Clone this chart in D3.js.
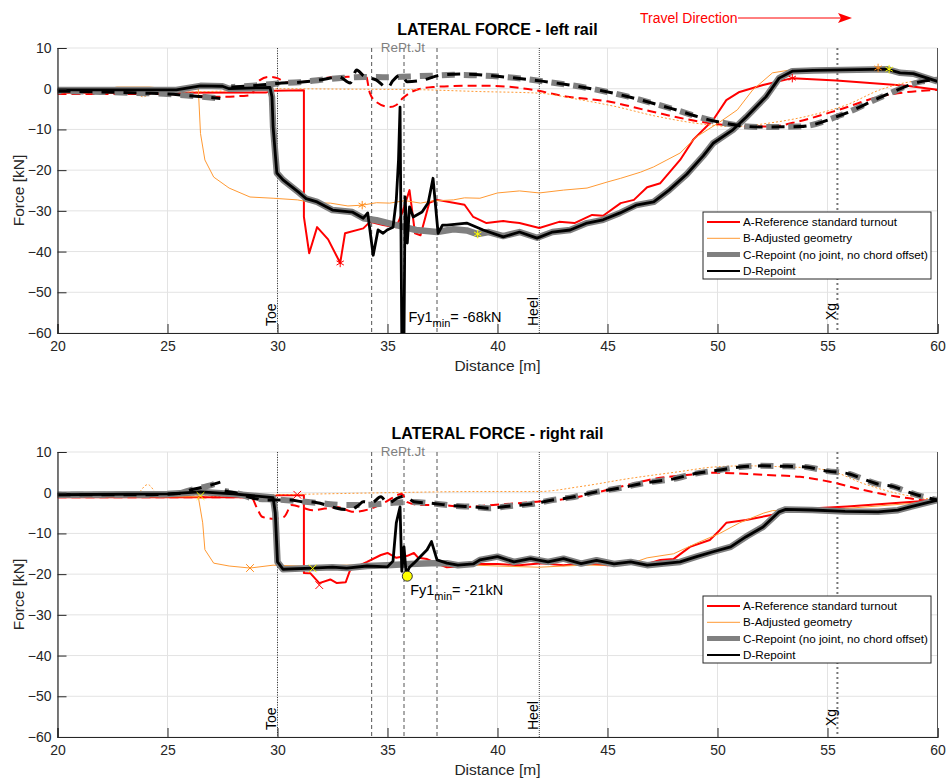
<!DOCTYPE html>
<html><head><meta charset="utf-8">
<script src="https://cdn.jsdelivr.net/npm/d3@7"></script>
<style>body{margin:0;background:#fff} text{font-family:"Liberation Sans",Arial,Helvetica,sans-serif;fill:#262626}</style>
</head><body><svg id="c" width="946" height="782"></svg>
<script>
// ---------- data ----------
const xTicks = [20,25,30,35,40,45,50,55,60];
const yTicks = [10,0,-10,-20,-30,-40,-50,-60];
const legendLabels = ["A-Reference standard turnout","B-Adjusted geometry","C-Repoint (no joint, no chord offset)","D-Repoint"];
const titles = ["LATERAL FORCE - left rail","LATERAL FORCE - right rail"];
const refLines = [
  {x:30, label:"Toe", kind:"toe"},
  {x:34.28, label:"", kind:"jt"},
  {x:35.75, label:"", kind:"jt"},
  {x:37.25, label:"", kind:"jt"},
  {x:41.9, label:"Heel", kind:"heel"},
  {x:55.45, label:"Xg", kind:"xg"}
];
const jointLabel = {x:35.7, text:"RePt.Jt"};

// ----- left rail (top) -----
const topA_solid = [[20,-1],[25,-1],[29.5,-0.9],[29.8,-0.5],[31.2,-0.4],[31.2,-31.5],[31.44,-40.4],[31.8,-34],[32.3,-37],[32.85,-42.8],[33.07,-35.5],[33.9,-34.3],[34.2,-32.7],[34.8,-33.5],[35.4,-34],[35.7,-30],[36.0,-24.9],[36.25,-35.5],[36.5,-36],[36.9,-28],[37.25,-27.3],[38,-28],[38.5,-28.5],[38.9,-31.5],[39.5,-33],[40.26,-32.5],[41.0,-33],[41.9,-34.2],[42.8,-32.7],[43.5,-33],[44.3,-31],[44.8,-31.2],[45.6,-28.1],[46.2,-27.3],[46.8,-24.2],[47.4,-23.2],[48.3,-17.5],[48.9,-12.5],[49.8,-7.7],[50.4,-2.8],[51.0,-0.8],[52.07,0.9],[53.4,2.6],[55.4,2.0],[58.6,0.7],[60,-0.25]];
const topA_dash = [[20,-1.3],[25,-1.3],[27.2,-2],[28.75,-1.6],[29.2,2.1],[29.6,2.9],[30,2.6],[30.4,1.5],[31.3,1.7],[31.8,2.4],[33,2.9],[33.5,3],[34,3.5],[34.2,-1.1],[34.5,-3.3],[35.1,-4.5],[35.4,-4],[35.7,-2.3],[36.3,-0.3],[37.07,0.4],[38.45,0.7],[39.6,0.7],[41.6,-0.25],[43.1,-1.9],[45,-3.1],[47,-5.6],[48.9,-7.8],[50.3,-8.9],[51.5,-9.3],[52.6,-9.2],[53.7,-8],[55.5,-5.2],[57.4,-1.9],[59.3,-0.5],[60,-0.3]];
const topB_solid = [[20,-0.5],[22,-0.3],[22.7,0.4],[24.2,0.4],[25,0],[26.4,0],[26.5,-11],[26.7,-17.5],[27.1,-21.7],[27.8,-24.4],[28.75,-26.6],[29.8,-26.9],[30.9,-27.3],[31.6,-28],[32.4,-28.1],[33.2,-28.8],[33.85,-28.6],[34.5,-28],[35.1,-28.1],[35.8,-27.5],[36.5,-28.1],[37,-27.6],[38,-27.3],[38.5,-26.8],[39.2,-26.9],[40,-25.6],[41,-25.1],[41.9,-25.6],[43,-24.9],[44.07,-24.4],[45,-22.9],[45.6,-22],[46.5,-20.5],[47.1,-19.2],[47.7,-17.5],[48.3,-15.8],[49.05,-11.8],[50.1,-8.2],[50.9,-5.2],[51.6,-0.3],[52.5,3.9],[53.3,4.6],[57.1,4.8],[58.2,4.0],[58.9,3.4],[60,1.6]];
const topB_dash = [[20,-1],[23.5,-1],[23.9,-2],[24.3,-1],[26,-0.8],[28,-0.5],[30,0],[33,-0.1],[36,-0.2],[39.2,-0.7],[41.9,-1.1],[43.75,-2.7],[45.3,-4.3],[47.25,-6.8],[49.5,-8.8],[50.7,-9.3],[52.4,-8.4],[54.35,-6.4],[55.9,-3.9],[57.4,-0.25],[58.9,1.8],[60,2.2]];
const topC_solid = [[20,-0.3],[25.4,-0.3],[26.5,0.7],[27.5,0.6],[27.8,0],[29.66,0.3],[29.75,-2],[29.8,-9.4],[29.97,-20.7],[30.25,-22.4],[31.0,-25.6],[31.3,-27],[31.8,-27.8],[32.5,-29.8],[33.4,-30.3],[33.9,-31.8],[34.5,-32.3],[35.4,-33.5],[36.3,-34.7],[37.25,-35.2],[38.0,-34.5],[38.6,-34.8],[39.1,-35.7],[39.6,-35.2],[40.26,-36.2],[41.0,-35.2],[41.8,-36.6],[42.5,-35.2],[43.3,-34.7],[44.07,-33],[44.8,-32.2],[45.57,-30.5],[46.3,-28.6],[47.1,-27.8],[47.8,-24.9],[48.6,-21],[49.35,-16.5],[49.8,-13.4],[50.7,-10.1],[51.3,-7],[52.2,-2],[52.8,2.6],[53.4,4.3],[54.35,4.5],[57.7,4.8],[58.3,3.9],[58.9,3.7],[60,1.8]];
const topC_dash = [[20,-0.6],[22,-0.8],[24,-1.1],[25,-1.3],[26,-1.7],[27.4,-2.4],null,[27.9,0.4],[29,0.8],[30,1.3],[31,1.6],[32,2.2],[33,2.7],[34,2.9],[35,2.8],[36,3.0],[37,3.2],[38,3.4],[40.1,3.0],[42.1,1.8],[44.07,0.2],[45.9,-1.9],[47.8,-4.7],[49.9,-8.0],[51.9,-9.4],[53.75,-9.3],[55.65,-6.4],[57.5,-1.9],[59.3,1.8],[60,2.2]];
const topD_solid = [[20,-0.3],[25.4,-0.3],[26.5,0.7],[27.5,0.6],[27.8,0],[29.66,0.3],[29.75,-2],[29.8,-9.4],[29.97,-20.7],[30.25,-22.4],[31.0,-25.6],[31.3,-27],[31.8,-27.8],[32.5,-29.8],[33.4,-30.3],[33.9,-31.8],[34.1,-30.5],[34.35,-40.9],[34.57,-34.7],[34.8,-35.5],[34.98,-34.7],[35.25,-34],[35.4,-27.3],[35.5,-17.5],[35.57,-4.5],[35.66,-68],[35.74,-68],[35.8,-26.6],[35.9,-37.9],[36.0,-29],[36.17,-31.5],[36.57,-30.3],[36.85,-28],[37.07,-22],[37.3,-35.5],[37.5,-33.5],[37.7,-33.5],[38.6,-33],[39.35,-34.7],[40.26,-36.4],[41.0,-35.2],[41.8,-36.7],[42.5,-35.2],[43.3,-34.7],[44.07,-33],[44.8,-32.2],[45.57,-30.5],[46.3,-28.6],[47.1,-27.8],[47.8,-24.9],[48.6,-21],[49.35,-16.5],[49.8,-13.4],[50.7,-10.1],[51.3,-7],[52.2,-2],[52.8,2.6],[53.4,4.3],[54.35,4.5],[57.7,4.8],[58.3,3.9],[58.9,3.7],[60,1.8]];
const topD_dash = [[20,-0.6],[22,-0.8],[24,-1.1],[25,-1.3],[26,-1.7],[27.4,-2.4],null,[27.9,0.4],[29,0.8],[30,1.3],[31,1.6],[32,2.2],[32.8,2.9],[33.3,1.4],[33.6,4.6],[33.9,3.2],[34.5,2.1],[35.0,0.2],[35.25,2.0],[35.6,3.4],[35.9,1.7],[36.5,2.0],[37.5,3.4],[38.5,3.6],[40.1,3.0],[42.1,1.8],[44.07,0.2],[45.9,-1.9],[47.8,-4.7],[49.9,-8.0],[51.9,-9.4],[53.75,-9.3],[55.65,-6.4],[57.5,-1.9],[59.3,1.8],[60,2.2]];
const topMarkers = [
  {x:32.85,y:-42.8,c:"#ff0000",s:"ast"},{x:33.85,y:-28.6,c:"#ff8c1a",s:"ast"},{x:39.1,y:-35.7,c:"#ffff00",s:"ast"},
  {x:53.4,y:2.6,c:"#ff0000",s:"ast"},{x:57.3,y:5.1,c:"#ff8c1a",s:"ast"},{x:57.8,y:4.8,c:"#ffff00",s:"ast"}];

// ----- right rail (bottom) -----
const botA_solid = [[20,-1.1],[29.7,-1.1],[30,-0.6],[31.2,-0.6],[31.2,-19.7],[31.5,-19.8],[31.9,-22.2],[32.4,-21.3],[32.7,-22.2],[33.1,-22],[33.3,-19],[33.75,-17.8],[34.07,-17],[34.7,-15.3],[35,-14.8],[35.4,-16],[35.9,-15.5],[36.2,-14.8],[36.4,-16],[36.8,-16.3],[37.3,-17.5],[37.7,-18.3],[38.5,-18],[39.2,-17.5],[40,-17.5],[41,-17.8],[42,-17.3],[43,-17.8],[44,-17.3],[45,-17.8],[46,-17.3],[46.8,-17.5],[47.4,-16.5],[48,-16.3],[48.75,-13.3],[49.65,-11.6],[50.1,-9.2],[50.4,-7.4],[51.3,-6.7],[52.5,-5.4],[53.15,-4.2],[55.9,-3.4],[58.9,-2.2],[60,-1.8]];
const botA_dash = [[20,-1.1],[28.8,-1.1],[29.07,-3.8],[29.3,-5.9],[29.8,-6.4],[30.3,-5.9],[30.65,-3],[31.2,-3.8],[31.6,-4.3],[32.7,-3.5],[33.45,-4.7],[34.2,-4],[34.9,-2.3],[35.65,-0.3],[35.9,-2.3],[36.5,-3],[37.4,-3],[38.5,-3.5],[39.8,-3],[41.8,-2.2],[43.3,-1.4],[44.7,0.3],[45.9,1.9],[47.2,3.5],[48.6,4.35],[49.8,4.9],[50.7,4.8],[52.2,4.35],[53.75,3.9],[55.1,2.7],[56.6,0.7],[58.2,-1],[60,-2.2]];
const botB_solid = [[20,-1],[26.4,-1],[26.6,-7.4],[26.7,-14],[27.1,-17.3],[27.8,-18],[28.75,-18.5],[29.8,-17.8],[31,-18],[32,-18.2],[33,-17.8],[34,-17.8],[35,-17.5],[36,-17.5],[37,-17.8],[38,-18],[39,-17.8],[40,-18],[41.9,-18.3],[43,-18],[44,-17.8],[45,-17.8],[46,-17.5],[46.8,-16],[48,-15],[49.05,-12.4],[50.1,-10],[51,-7.4],[52.1,-5],[52.5,-4.4],[54.3,-4.3],[56,-3.8],[58.9,-2.6],[60,-1.8]];
const botB_dash = [[20,-1],[23.5,-0.8],[24.1,2],[24.6,-0.5],[27,-0.8],[30,-0.5],[35,0],[39.2,0.3],[41.9,0.3],[43.75,1.5],[46.0,3.5],[48.3,5.2],[49.8,6.3],[51.3,6.6],[52.8,6.4],[54.35,6.0],[55.25,5.2],[56.6,2.3],[58.15,-0.15],[60,-1.8]];
const botC_solid = [[20,-0.5],[25,-0.3],[26.5,0.2],[28,-0.3],[29.8,-1.2],[29.9,-5],[30.0,-17],[30.25,-18.8],[31.6,-18.5],[32.5,-18.3],[33.15,-18.5],[34.07,-18],[35,-17.8],[36,-17.5],[37,-17.3],[37.7,-17.3],[38.2,-17.8],[38.9,-17.5],[39.2,-16.5],[40,-15.7],[40.75,-17],[41.5,-16.2],[42.3,-17],[43.0,-16.2],[43.8,-17.4],[44.5,-16.6],[45.3,-17.5],[46.05,-17],[46.8,-17.8],[47.55,-17.4],[48.3,-17],[49.05,-15.7],[49.8,-14.5],[50.6,-13.3],[51.3,-10.8],[52.07,-8.4],[52.8,-4.7],[53.1,-4.1],[54.3,-4.25],[55.8,-4.6],[57.3,-4.7],[58.2,-4.3],[58.8,-3.4],[60,-1.8]];
const botC_dash = [[20,-0.5],[24,-0.5],[25.5,-0.2],[26,0.6],[26.8,1.6],[27.4,2.6],null,[27.6,0.4],[28.2,-0.2],[29,-1.5],[30,-1.7],[31,-2.1],[32,-2.6],[33,-3],[34,-3],[35,-2.6],[36,-2.3],[37,-2.6],[38,-3.2],[39,-3.5],[39.6,-3.8],[40.5,-3.3],[41.5,-2.8],[42.5,-1.8],[43.3,-1.2],[44.5,0.2],[45.5,1.1],[46.8,2.5],[48,3.4],[49,4.7],[50,5.5],[51,6.3],[52,6.6],[53,6.5],[54,6.3],[55,5.3],[56,4.6],[56.6,3.4],[57.3,2.1],[58,1.5],[58.6,0.3],[59.3,-0.9],[60,-1.8]];
const botD_solid = [[20,-0.5],[25,-0.3],[26.5,0.2],[28,-0.3],[29.8,-1.2],[29.9,-5],[30.0,-17],[30.25,-18.8],[31.6,-18.5],[32.5,-18.3],[33.15,-18.5],[34.07,-18],[35,-18.2],[35.25,-16.8],[35.4,-7.4],[35.57,-3.5],[35.65,-19.3],[35.75,-13.3],[35.85,-20],[36.0,-18.3],[36.2,-17.3],[36.8,-14],[37,-12],[37.25,-16.5],[37.7,-17.3],[38.2,-17.8],[38.9,-17.5],[39.2,-16.5],[40,-15.7],[40.75,-17],[41.5,-16.2],[42.3,-17],[43.0,-16.2],[43.8,-17.4],[44.5,-16.6],[45.3,-17.5],[46.05,-17],[46.8,-17.8],[47.55,-17.4],[48.3,-17],[49.05,-15.7],[49.8,-14.5],[50.6,-13.3],[51.3,-10.8],[52.07,-8.4],[52.8,-4.7],[53.1,-4.1],[54.3,-4.25],[55.8,-4.6],[57.3,-4.7],[58.2,-4.3],[58.8,-3.4],[60,-1.8]];
const botD_dash = [[20,-0.5],[24,-0.5],[25.5,-0.2],[26,0.6],[26.8,1.6],[27.4,2.6],null,[27.6,0.4],[28.2,-0.2],[29,-1.5],[29.5,-1.8],[30.6,-1.8],[31.1,-2.2],[31.6,-2.3],[32.2,-3],[32.7,-3.8],[33.3,-4.2],[33.7,-3],[33.9,-2.2],[34.3,-2.4],[34.7,-1],[35,-2.6],[35.5,-1.2],[35.8,-0.8],[36.2,-2.2],[37,-2.6],[38,-3.2],[39,-3.5],[39.6,-3.8],[40.5,-3.3],[41.5,-2.8],[42.5,-1.8],[43.3,-1.2],[44.5,0.2],[45.5,1.1],[46.8,2.5],[48,3.4],[49,4.7],[50,5.5],[51,6.3],[52,6.6],[53,6.5],[54,6.3],[55,5.3],[56,4.6],[56.6,3.4],[57.3,2.1],[58,1.5],[58.6,0.3],[59.3,-0.9],[60,-1.8]];
const botMarkers = [
  {x:28.75,y:-18.5,c:"#ff8c1a",s:"x"},{x:30.9,y:-0.5,c:"#ff0000",s:"x"},{x:31.9,y:-22.7,c:"#ff0000",s:"x"},
  {x:26.5,y:-0.8,c:"#ffff00",s:"x"},{x:31.6,y:-18.6,c:"#ffff00",s:"x"}];
const minPoints = [{x:35.72,y:-68,label:"-68kN",tx:35.95,ty:-57.3,circle:false},{x:35.9,y:-20.5,label:"-21kN",tx:36.03,ty:-25.1,circle:true}];

// ---------- drawing ----------
const svg = d3.select("#c");
const L = 57.5, R = 937.5, H = 285;
const style = {
  A_solid:{stroke:"#ff0000",w:2,dash:null},
  A_dash:{stroke:"#ff0000",w:2,dash:"9,5"},
  B_solid:{stroke:"#ff9933",w:1,dash:null},
  B_dash:{stroke:"#ff9933",w:1,dash:"2,2"},
  C_solid:{stroke:"#808080",w:6.5,dash:null},
  C_dash:{stroke:"#808080",w:6,dash:"13,9",off:9},
  D_solid:{stroke:"#000000",w:2.8,dash:null},
  D_dash:{stroke:"#000000",w:3,dash:"13,9"}
};
const panels = [
  {top:48, title:titles[0], data:{A_solid:topA_solid,A_dash:topA_dash,B_solid:topB_solid,B_dash:topB_dash,C_solid:topC_solid,C_dash:topC_dash,D_solid:topD_solid,D_dash:topD_dash}, markers:topMarkers, min:minPoints[0], legendTop:212, xgShift:-6},
  {top:452, title:titles[1], data:{A_solid:botA_solid,A_dash:botA_dash,B_solid:botB_solid,B_dash:botB_dash,C_solid:botC_solid,C_dash:botC_dash,D_solid:botD_solid,D_dash:botD_dash}, markers:botMarkers, min:minPoints[1], legendTop:596, xgShift:-4}
];

panels.forEach((p,pi) => {
  const bottom = p.top + H;
  const x = d3.scaleLinear().domain([20,60]).range([L,R]);
  const y = d3.scaleLinear().domain([-60,10]).range([bottom,p.top]);
  const g = svg.append("g");
  const clipId = "clip"+pi;
  svg.append("clipPath").attr("id",clipId).append("rect").attr("x",L).attr("y",p.top).attr("width",R-L).attr("height",H);

  // grid
  g.append("g").selectAll("line").data(xTicks).join("line")
    .attr("x1",d=>x(d)).attr("x2",d=>x(d)).attr("y1",p.top).attr("y2",bottom)
    .attr("stroke","#e3e3e3").attr("stroke-width",1);
  g.append("g").selectAll("line").data(yTicks).join("line")
    .attr("x1",L).attr("x2",R).attr("y1",d=>y(d)).attr("y2",d=>y(d))
    .attr("stroke","#e3e3e3").attr("stroke-width",1);

  // reference vertical lines
  const rl = g.append("g");
  refLines.forEach(r => {
    const ln = rl.append("line").attr("x1",x(r.x)).attr("x2",x(r.x)).attr("y1",p.top).attr("y2",bottom);
    if (r.kind==="toe") ln.attr("stroke","#333").attr("stroke-width",1).attr("stroke-dasharray","1,1.5");
    else if (r.kind==="heel") ln.attr("stroke","#444").attr("stroke-width",1).attr("stroke-dasharray","1,1");
    else if (r.kind==="jt") ln.attr("stroke","#555").attr("stroke-width",1).attr("stroke-dasharray","4,3");
    else ln.attr("stroke","#777").attr("stroke-width",2).attr("stroke-dasharray","2,3");
    if (r.label) {
      const ty = r.kind==="xg" ? bottom-7+p.xgShift : bottom-7;
      rl.append("text").attr("transform",`translate(${x(r.x)-1.5},${ty}) rotate(-90)`)
        .attr("font-size",14).style("fill","#000").text(r.label);
    }
  });

  // data lines
  const lineGen = d3.line().defined(d=>d!==null).x(d=>x(d[0])).y(d=>y(d[1]));
  const smoothGen = d3.line().defined(d=>d!==null).x(d=>x(d[0])).y(d=>y(d[1])).curve(d3.curveMonotoneX);
  const dg = g.append("g").attr("clip-path",`url(#${clipId})`);
  ["A_solid","A_dash","B_solid","B_dash","C_solid","C_dash","D_solid","D_dash"].forEach(k => {
    const s = style[k];
    const gen = k.endsWith("dash") ? smoothGen : lineGen;
    const path = dg.append("path").datum(p.data[k]).attr("d",gen)
      .attr("fill","none").attr("stroke",s.stroke).attr("stroke-width",s.w)
      .attr("stroke-linejoin","round");
    if (s.dash) path.attr("stroke-dasharray",s.dash);
    if (s.off) path.attr("stroke-dashoffset",s.off);
  });

  // markers
  dg.selectAll("path.mk").data(p.markers).join("path").attr("class","mk")
    .attr("transform",d=>`translate(${x(d.x)},${y(d.y)})`)
    .attr("d",d=>d3.symbol().type(d.s==="ast"?d3.symbolAsterisk:d3.symbolTimes).size(d.s==="ast"?50:40)())
    .attr("fill","none").attr("stroke",d=>d.c).attr("stroke-width",1);
  if (p.min.circle) {
    dg.append("circle").attr("cx",x(p.min.x)).attr("cy",y(p.min.y)).attr("r",5)
      .attr("fill","#ffff00").attr("stroke","#333").attr("stroke-width",1);
  }
  const ft = g.append("text").attr("x",x(p.min.tx)).attr("y",y(p.min.ty)).attr("font-size",14.5).style("fill","#000");
  ft.append("tspan").text("Fy1");
  ft.append("tspan").attr("font-size",11).attr("dy",5).text("min");
  ft.append("tspan").attr("dy",-5).text("= "+p.min.label);

  // axes
  const ax = g.append("g").attr("transform",`translate(0,${bottom})`)
    .call(d3.axisBottom(x).tickValues(xTicks).tickSize(-9).tickPadding(8).tickFormat(d3.format("d")));
  const ay = g.append("g").attr("transform",`translate(${L},0)`)
    .call(d3.axisLeft(y).tickValues(yTicks).tickSize(-9).tickPadding(6).tickFormat(d3.format("d")));
  [ax,ay].forEach(a => {
    a.select(".domain").attr("stroke","#262626").attr("stroke-width",1.2);
    a.selectAll(".tick line").attr("stroke","#262626");
    a.selectAll(".tick text").attr("font-size",14).style("fill","#262626")
      .attr("font-family","Liberation Sans, Arial, sans-serif");
  });
  g.append("line").attr("x1",R).attr("x2",R).attr("y1",p.top).attr("y2",bottom).attr("stroke","#555").attr("stroke-width",1);

  // titles & labels
  g.append("text").attr("x",(L+R)/2).attr("y",p.top-13).attr("text-anchor","middle")
    .attr("font-size",16).attr("font-weight","bold").style("fill","#000").text(p.title);
  g.append("text").attr("x",x(jointLabel.x)).attr("y",p.top+4).attr("text-anchor","middle")
    .attr("font-size",13.5).style("fill","#7f7f7f").text(jointLabel.text);
  g.append("text").attr("x",(L+R)/2).attr("y",bottom+38).attr("text-anchor","middle")
    .attr("font-size",15.5).text("Distance [m]");
  g.append("text").attr("transform",`translate(24,${(p.top+bottom)/2}) rotate(-90)`).attr("text-anchor","middle")
    .attr("font-size",15.5).text("Force [kN]");

  // legend
  const lg = g.append("g").attr("transform",`translate(703,${p.legendTop})`);
  lg.append("rect").attr("width",228).attr("height",67).attr("fill","#fff").attr("stroke","#262626").attr("stroke-width",1);
  const legStyles = [style.A_solid,style.B_solid,{stroke:"#808080",w:5},{stroke:"#000",w:2}];
  legendLabels.forEach((lab,i) => {
    const yy = 10 + i*16.3;
    lg.append("line").attr("x1",4).attr("x2",37).attr("y1",yy).attr("y2",yy)
      .attr("stroke",legStyles[i].stroke).attr("stroke-width",legStyles[i].w);
    lg.append("text").attr("x",40).attr("y",yy+4).attr("font-size",11.7).style("fill","#000").text(lab);
  });
});

// travel direction arrow
svg.append("text").attr("x",640).attr("y",23).attr("font-size",14).style("fill","#ff0000").text("Travel Direction");
svg.append("line").attr("x1",738).attr("x2",842).attr("y1",18).attr("y2",18).attr("stroke","#ff0000").attr("stroke-width",1);
svg.append("path").attr("d","M838,13 L852,18 L838,23 L841,18 Z").attr("fill","#ff0000");
</script></body></html>
